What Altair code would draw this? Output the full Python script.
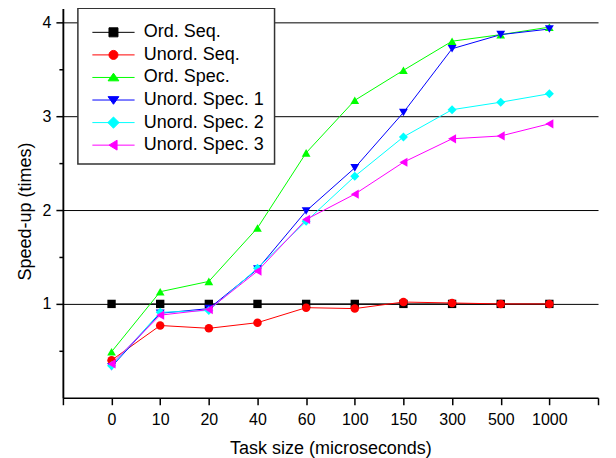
import altair as alt
import pandas as pd

tasks = ["0", "10", "20", "40", "60", "100", "150", "300", "500", "1000"]
series = ["Ord. Seq.", "Unord. Seq.", "Ord. Spec.", "Unord. Spec. 1", "Unord. Spec. 2", "Unord. Spec. 3"]
ord_seq = [1.00, 1.00, 1.00, 1.00, 1.00, 1.00, 1.00, 1.00, 1.00, 1.00]
unord_seq = [0.40, 0.77, 0.74, 0.80, 0.96, 0.95, 1.02, 1.01, 1.00, 1.00]
ord_spec = [0.49, 1.13, 1.24, 1.81, 2.61, 3.17, 3.49, 3.80, 3.87, 3.95]
unord_spec1 = [0.33, 0.90, 0.95, 1.37, 1.99, 2.45, 3.04, 3.72, 3.87, 3.93]
unord_spec2 = [0.34, 0.91, 0.93, 1.38, 1.88, 2.36, 2.78, 3.07, 3.15, 3.24]
unord_spec3 = [0.36, 0.88, 0.94, 1.35, 1.90, 2.17, 2.51, 2.76, 2.79, 2.92]

colors = ["#000000", "#ff0000", "#00ff00", "#0000ff", "#00ffff", "#ff00ff"]
shapes = ["square", "circle", "triangle-up", "triangle-down", "diamond", "triangle-left"]
sizes = [70, 85, 130, 130, 130, 120]
LINE = "M-1,0H8.4"
legend_paths = [
    LINE + "M2.7,-1H4.7V1H2.7Z",
    LINE + "M2.7,0A1,1,0,1,1,4.7,0A1,1,0,1,1,2.7,0Z",
    LINE + "M3.7,-0.95L4.9,0.75L2.5,0.75Z",
    LINE + "M3.7,0.95L4.9,-0.75L2.5,-0.75Z",
    LINE + "M3.7,-1.25L4.95,0L3.7,1.25L2.45,0Z",
    LINE + "M2.7,0L4.5,-1.1L4.5,1.1Z",
]

values = [ord_seq, unord_seq, ord_spec, unord_spec1, unord_spec2, unord_spec3]
rows = []
for s, vals in zip(series, values):
    for i, v in enumerate(vals):
        rows.append({"series": s, "idx": i + 1, "value": v})
df = pd.DataFrame(rows)

FONT = "Liberation Sans"
label_list = "[''," + ",".join("'%s'" % t for t in tasks) + ",'']"

x_enc = alt.X(
    "idx:Q",
    scale=alt.Scale(domain=[0, 11], nice=False, zero=False),
    axis=alt.Axis(
        title="Task size (microseconds)",
        values=list(range(0, 12)),
        labelExpr=label_list + "[datum.value]",
        tickSize=7, tickWidth=1.5, domainWidth=1.5, domainColor="#000", tickColor="#000",
        labelFontSize=16, titleFontSize=18, labelPadding=7, titlePadding=12,
        grid=False, labelFont=FONT, titleFont=FONT, labelColor="#000", titleColor="#000",
        titleFontWeight="normal", labelFlush=False,
    ),
)
yscale = alt.Scale(domain=[0, 4.15], nice=False, zero=True)
y_major = alt.Y(
    "value:Q", scale=yscale,
    axis=alt.Axis(
        title="Speed-up (times)", orient="left",
        values=[1, 2, 3, 4], format="d",
        tickSize=7, tickWidth=1.5, domainWidth=1.5, domainColor="#000", tickColor="#000",
        labelFontSize=16, titleFontSize=18, labelPadding=5, titlePadding=8,
        titleY=203,
        grid=True, gridColor="#000", gridWidth=1, gridOpacity=1,
        labelFont=FONT, titleFont=FONT, labelColor="#000", titleColor="#000",
        titleFontWeight="normal",
    ),
)
y_minor = alt.Y(
    "value:Q", scale=yscale,
    axis=alt.Axis(
        title=None, orient="left", values=[0.5, 1.5, 2.5, 3.5], labels=False,
        tickSize=4, tickWidth=1.5, domainWidth=1.5, domainColor="#000", tickColor="#000",
        grid=False,
    ),
)

color_scale = alt.Scale(domain=series, range=colors)

lines = alt.Chart(df).mark_line(strokeWidth=1).encode(
    x=x_enc, y=y_major,
    color=alt.Color("series:N", scale=color_scale, legend=None),
    order=alt.Order("idx:Q"),
)
points = alt.Chart(df).mark_point(filled=True, opacity=1).encode(
    x=x_enc, y=y_minor,
    color=alt.Color("series:N", scale=color_scale, legend=None),
    shape=alt.Shape("series:N", scale=alt.Scale(domain=series, range=shapes), legend=None),
    size=alt.Size("series:N", scale=alt.Scale(domain=series, range=sizes), legend=None),
)
legend_layer = alt.Chart(df).mark_point(filled=True, opacity=0, strokeWidth=1).encode(
    x=x_enc, y=alt.Y("value:Q", scale=yscale, axis=None),
    fill=alt.Fill("series:N", scale=alt.Scale(domain=series, range=colors),
                  legend=alt.Legend(title=" ")),
    stroke=alt.Stroke("series:N", scale=alt.Scale(domain=series, range=colors),
                      legend=alt.Legend(title=" ")),
    shape=alt.Shape("series:N", scale=alt.Scale(domain=series, range=legend_paths),
                    legend=alt.Legend(title=" ")),
)

chart = alt.layer(lines, points, legend_layer).resolve_scale(
    shape="independent", fill="independent", stroke="independent", size="independent"
).resolve_axis(y="independent").properties(
    width=536, height=390,
    autosize=alt.AutoSizeParams(type="none"),
    padding={"left": 55, "top": 0, "right": 10, "bottom": 62},
).configure_view(stroke=None).configure_legend(
    orient="none", legendX=15, legendY=0,
    fillColor="#ffffff", strokeColor="#333333", strokeWidth=1.5,
    padding=10, rowPadding=4.6, labelFontSize=18, labelFont=FONT, labelColor="#000",
    titleFontSize=4, titlePadding=1, titleFont=FONT,
    symbolSize=81, symbolStrokeWidth=1, symbolOpacity=1, labelOffset=38,
    symbolType="circle",
)

chart.save("out.html", embed_options={"renderer": "svg", "actions": False})
